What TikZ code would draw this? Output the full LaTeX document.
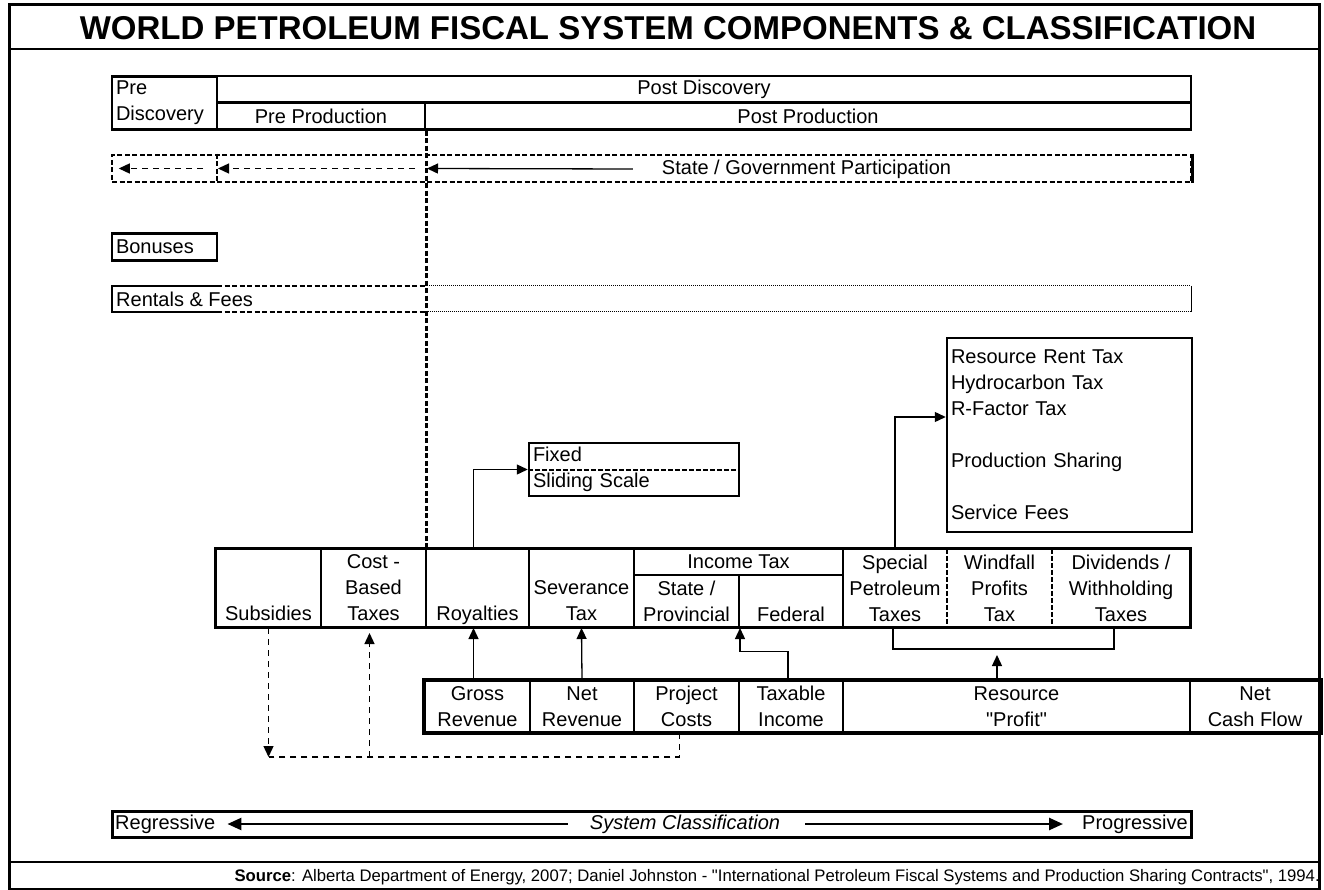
\documentclass[tikz,border=0pt]{standalone}
\usepackage{fontspec}
\setmainfont{Liberation Sans}
\usepackage{tikz}
\usetikzlibrary{arrows.meta}
\tikzstyle{cell} = [rectangle, draw=black, line width=2pt, inner sep=0pt, align=center]
\tikzstyle{bare} = [rectangle, inner sep=0pt, align=center]
\tikzstyle{leftbox} = [rectangle, draw=black, line width=2.5pt, inner xsep=4pt, inner ysep=0pt, align=left]
\tikzstyle{arrow} = [line width=1.3pt,-{Triangle[length=11pt,width=10pt]}]
\tikzstyle{darrow} = [line width=1.3pt,-{Triangle[length=11pt,width=10pt]}, dash pattern=on 6pt off 5pt]
\tikzstyle{bigarrow} = [line width=2.5pt,-{Triangle[length=14pt,width=12pt]}]
\tikzstyle{dline} = [line width=2.5pt, dash pattern=on 5pt off 2.5pt]
\tikzstyle{thindash} = [line width=1.3pt, dash pattern=on 6pt off 5pt]

\begin{document}
\begin{tikzpicture}[x=1pt, y=-1pt, every node/.style={font=\fontsize{20}{26}\selectfont}]
        \useasboundingbox (0,0) rectangle (1324,890);

        % frame, title and source
        \draw[line width=3pt] (9,5) rectangle (1319,889);
        \draw[line width=1.5pt] (9,49) -- (1319,49);
        \draw[line width=1.5pt] (9,862) -- (1319,862);
        \node (title) [bare] at (668,28) {\fontsize{33}{36}\selectfont\bfseries WORLD PETROLEUM FISCAL SYSTEM COMPONENTS \& CLASSIFICATION};
        \node (source) [bare, anchor=east, font=\fontsize{16.7}{18}\selectfont] at (1320,877) {\textbf{Source}: Alberta Department of Energy, 2007; Daniel Johnston - \textquotedbl International Petroleum Fiscal Systems and Production Sharing Contracts\textquotedbl, 1994.};

        % stages
        \node (pre) [leftbox, text width=97pt, minimum height=53pt] at (164.5,103) {Pre\\Discovery};
        \node (postdisc) [cell, line width=2.5pt, minimum width=974pt, minimum height=26.5pt] at (704,89.5) {Post Discovery};
        \node (preprod) [cell, line width=2.5pt, minimum width=208pt, minimum height=27pt] at (321,116) {Pre Production};
        \node (postprod) [cell, line width=2.5pt, minimum width=766pt, minimum height=27pt] at (808,116) {Post Production};

        % participation
        \node (partic) [rectangle, draw, dline, minimum width=1079pt, minimum height=27pt] at (651.5,168.5) {};
        \draw[line width=2.5pt] (partic.north east) -- (partic.south east);
        \node (partlabel) [bare] at (806.5,169) {State / Government Participation};
        \coordinate (d1) at (217,168.5);
        \coordinate (d2) at (425,168.5);
        \draw[dline] (partic.north -| d1) -- (partic.south -| d1);
        \draw[darrow] ([xshift=-14pt]d1) -- ([xshift=8pt]partic.west);
        \draw[darrow] ([xshift=-10pt]d2) -- ([xshift=1pt]d1);
        \draw[arrow] ([xshift=-29pt]partlabel.west) -- ([xshift=2pt]d2);

        % bonuses, rentals
        \node (bonus) [leftbox, text width=97pt, minimum height=27pt] at (164.5,247) {Bonuses};
        \draw[line width=2.5pt] (217,286) -- (112,286) -- (112,312) -- (217,312);
        \draw[dline] (217,286) -- (425,286) (217,312) -- (425,312);
        \draw[line width=1pt, dash pattern=on 1pt off 1pt] (425,286) -- (1191,286) (1191,312) -- (425,312);
        \draw[line width=1pt] (1191,286) -- (1191,312);
        \node (rental) [bare, anchor=west] at (116,299) {Rentals \& Fees};

        % tax components
        \node (subs) [cell, minimum width=105pt, minimum height=78pt] at (268.5,588) {\vphantom{C}\\\vphantom{C}\\Subsidies};
        \node (cost) [cell, minimum width=105pt, minimum height=78pt] at (373.5,588) {Cost -\\Based\\Taxes};
        \node (royal) [cell, minimum width=103pt, minimum height=78pt] at (477.5,588) {\vphantom{C}\\\vphantom{C}\\\raisebox{0pt}[\height][0pt]{Royalties}};
        \node (sever) [cell, minimum width=105pt, minimum height=78pt] at (581.5,588) {\vphantom{C}\\Severance\\Tax};
        \node (income) [cell, minimum width=209pt, minimum height=26pt] at (738.5,562) {Income Tax};
        \node (state) [cell, minimum width=105pt, minimum height=52pt] at (686.5,601) {State /\\Provincial};
        \node (federal) [cell, minimum width=104pt, minimum height=52pt] at (791,601) {\vphantom{S/}\\Federal};
        \node (special) [bare, minimum width=104pt, minimum height=78pt] at (895,588) {Special\\Petroleum\\Taxes};
        \node (windfall) [bare, minimum width=105pt, minimum height=78pt] at (999.5,588) {Windfall\\Profits\\Tax};
        \node (divid) [bare, minimum width=138pt, minimum height=78pt] at (1121,588) {Dividends /\\Withholding\\Taxes};
        \draw[line width=3pt] (subs.north west) rectangle (divid.south east);
        \draw[line width=2pt, dash pattern=on 5pt off 2pt] (windfall.north west) -- (windfall.south west) (divid.north west) -- (divid.south west);

        % rate types
        \node (fixbox) [leftbox, text width=202pt, minimum height=53pt] at (634,469.5) {Fixed\\Sliding Scale};
        \draw[line width=2pt, dash pattern=on 5pt off 2pt] (fixbox.west) -- (fixbox.east);
        \node (rrtbox) [leftbox, text width=237pt, minimum height=194pt] at (1069.5,435) {Resource Rent Tax\\Hydrocarbon Tax\\R-Factor Tax\\[26pt]Production Sharing\\[26pt]Service Fees};

        % bases
        \node (gross) [cell, line width=2.5pt, minimum width=105pt, minimum height=51pt] at (477.5,706.5) {Gross\\Revenue};
        \node (netrev) [cell, line width=2.5pt, minimum width=104pt, minimum height=51pt] at (582,706.5) {Net\\Revenue};
        \node (project) [cell, line width=2.5pt, minimum width=105pt, minimum height=51pt] at (686.5,706.5) {Project\\Costs};
        \node (taxable) [cell, line width=2.5pt, minimum width=104pt, minimum height=51pt] at (791,706.5) {Taxable\\Income};
        \node (profit) [cell, line width=2.5pt, minimum width=347pt, minimum height=51pt] at (1016.5,706.5) {Resource\\\textquotedbl Profit\textquotedbl};
        \node (ncf) [cell, line width=2.5pt, minimum width=130pt, minimum height=51pt] at (1255,706.5) {Net\\Cash Flow};
        \draw[line width=3pt] (gross.north west) rectangle (ncf.south east);

        % links
        \draw[dline] (preprod.south east) -- (preprod.south east |- royal.north);
        \draw[arrow] ([xshift=-4pt]royal.north) |- (fixbox.west);
        \draw[arrow] (special.north) |- ([yshift=18pt]rrtbox.west);
        \draw[arrow] ([xshift=-4pt]gross.north) -- ([xshift=-4pt]royal.south);
        \draw[arrow] (netrev.north) -- (sever.south);
        \draw[arrow] ([xshift=-3pt]taxable.north) -- ++(0,-28) -| (state.south east);
        \coordinate (brk) at (997,649);
        \draw[line width=1.3pt] ([xshift=-2pt]special.south) |- (brk) -| ([xshift=-7pt]divid.south);
        \draw[arrow] (profit.north -| brk) -- ([yshift=-6pt]brk);
        \coordinate (low) at (0,757);
        \draw[darrow] (subs.south) -- (subs.south |- low);
        \draw[thindash] ([xshift=-7pt]project.south) |- (subs.south |- low);
        \draw[darrow] ([xshift=-4pt]cost.south |- low) -- ([xshift=-4pt, yshift=-5pt]cost.south);

        % classification
        \node (classbox) [rectangle, draw, line width=3pt, minimum width=1079pt, minimum height=26pt] at (651.5,824) {};
        \node (regr) [bare, anchor=west] at (115,824) {Regressive};
        \node (progr) [bare, anchor=east] at (1188,824) {Progressive};
        \node (sysclass) [bare] at (685,824) {\itshape System Classification};
        \draw[bigarrow] ([xshift=-22pt]sysclass.west) -- ([xshift=12pt]regr.east);
        \draw[bigarrow] ([xshift=25pt]sysclass.east) -- ([xshift=-19pt]progr.west);
\end{tikzpicture}
\end{document}
